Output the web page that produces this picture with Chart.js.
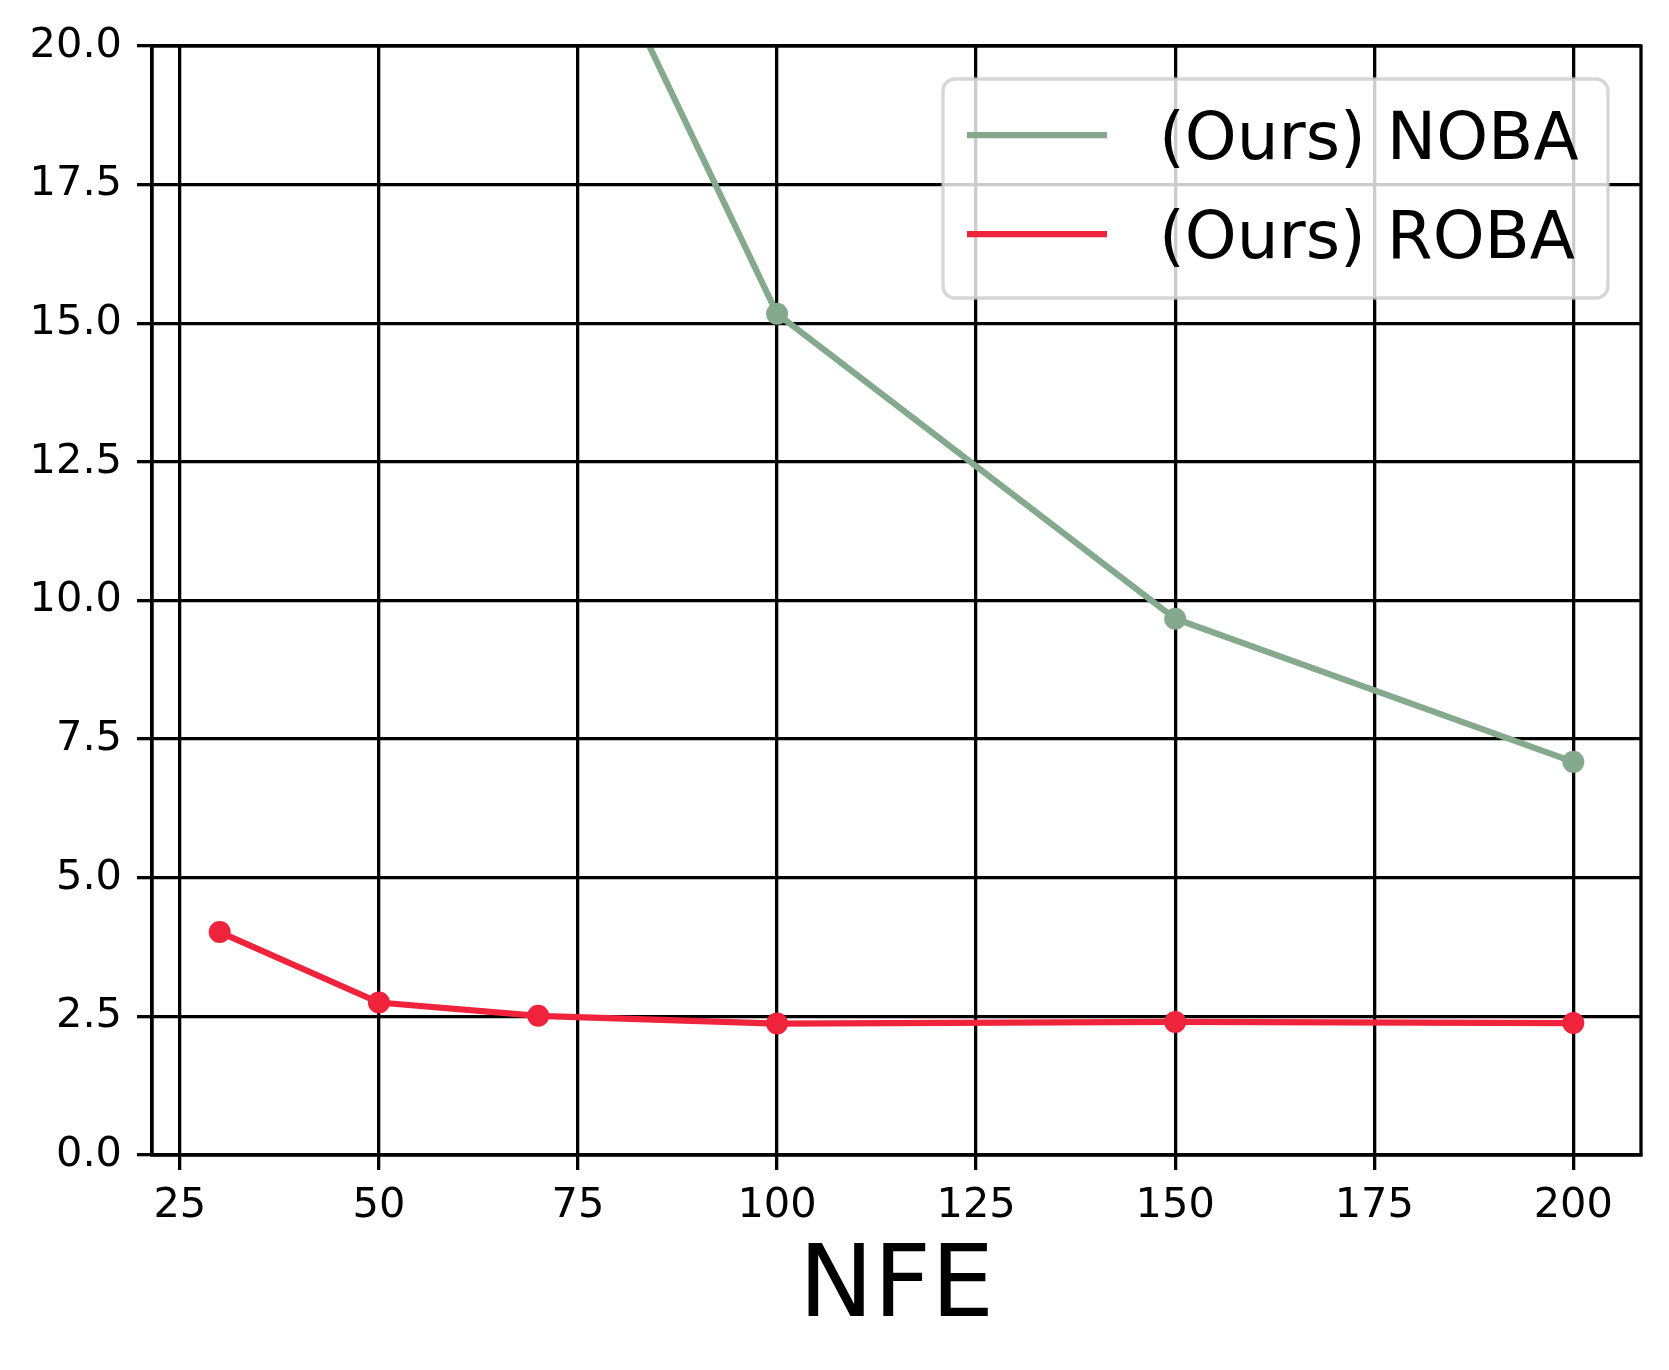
<!DOCTYPE html>
<html>
<head>
<meta charset="utf-8">
<script src="https://cdn.jsdelivr.net/npm/chart.js@4/dist/chart.umd.min.js"></script>
<style>
   html, body { margin: 0; padding: 0; background: #ffffff; }
   #wrap { width: 1669px; height: 1370px; }
</style>
</head>
<body>
<div id="wrap"><canvas id="chart" width="1669" height="1370"></canvas></div>
<script>
/* global Chart */

// values
const nfe = [30, 50, 70, 100, 150, 200];
const nobaValues = [null, null, 24.2, 15.17, 9.67, 7.09];
const robaValues = [4.02, 2.75, 2.51, 2.37, 2.40, 2.38];
const seriesLabels = ["(Ours) NOBA", "(Ours) ROBA"];
const xTicks = [25, 50, 75, 100, 125, 150, 175, 200];
const yTicks = [0, 2.5, 5, 7.5, 10, 12.5, 15, 17.5, 20];
const xTitle = "NFE";

const GREEN = "#84a98c";
const RED = "#ef233c";
const FONT = "'DejaVu Sans', sans-serif";

function toPoints(values) {
   return nfe.map((x, i) => ({ x: x, y: values[i] }));
}

// axes frame (right/top spines) drawn over the lines, then the legend box
const framePlugin = {
   id: "frame",
   afterDatasetsDraw(chart) {
      const { ctx, chartArea } = chart;
      ctx.save();
      ctx.strokeStyle = "#000000";
      ctx.lineWidth = 3.3;
      ctx.strokeRect(chartArea.left, chartArea.top,
         chartArea.right - chartArea.left, chartArea.bottom - chartArea.top);
      ctx.restore();
   },
   afterDraw(chart) {
      const ctx = chart.ctx;
      const box = { x: 943, y: 79, w: 665, h: 219, r: 12 };
      ctx.save();
      ctx.beginPath();
      ctx.roundRect(box.x, box.y, box.w, box.h, box.r);
      ctx.fillStyle = "rgba(255,255,255,0.8)";
      ctx.fill();
      ctx.strokeStyle = "rgba(204,204,204,0.8)";
      ctx.lineWidth = 3.3;
      ctx.stroke();

      ctx.font = "66px " + FONT;
      ctx.textBaseline = "alphabetic";
      ctx.textAlign = "left";
      chart.data.datasets.forEach((ds, i) => {
         const cy = 135 + i * 99;
         ctx.strokeStyle = ds.borderColor;
         ctx.lineWidth = 6.25;
         ctx.beginPath();
         ctx.moveTo(967, cy);
         ctx.lineTo(1107, cy);
         ctx.stroke();
         ctx.fillStyle = "#000000";
         ctx.fillText(ds.label, 1159, cy + 24);
      });
      ctx.restore();
   },
};

const ctx = document.getElementById("chart").getContext("2d");

new Chart(ctx, {
   type: "line",
   data: {
      datasets: [
         {
            label: seriesLabels[0],
            data: toPoints(nobaValues),
            borderColor: GREEN,
            backgroundColor: GREEN,
         },
         {
            label: seriesLabels[1],
            data: toPoints(robaValues),
            borderColor: RED,
            backgroundColor: RED,
         },
      ],
   },
   options: {
      responsive: false,
      animation: false,
      spanGaps: false,
      layout: { padding: { top: 46, right: 28, left: 0, bottom: 0 } },
      elements: {
         line: { borderWidth: 6.25, tension: 0 },
         point: { radius: 11, borderWidth: 0, hoverRadius: 11 },
      },
      plugins: {
         legend: { display: false },
         tooltip: { enabled: false },
      },
      scales: {
         x: {
            type: "linear",
            min: 21.5,
            max: 208.5,
            afterBuildTicks: (axis) => {
               axis.ticks = xTicks.map((v) => ({ value: v }));
            },
            afterFit: (axis) => {
               axis.height = 1370 - 1155;
            },
            ticks: {
               color: "#000000",
               font: { family: FONT, size: 41.5 },
               padding: 11,
               maxRotation: 0,
               autoSkip: false,
               callback: (v) => String(v),
            },
            grid: {
               color: "#000000",
               lineWidth: 3.3,
               tickLength: 15,
               tickColor: "#000000",
            },
            border: { color: "#000000", width: 3.3 },
            title: {
               display: true,
               text: xTitle,
               color: "#000000",
               font: { family: FONT, size: 100 },
               padding: { top: 0, bottom: 20 },
            },
         },
         y: {
            type: "linear",
            min: 0,
            max: 20,
            afterBuildTicks: (axis) => {
               axis.ticks = yTicks.map((v) => ({ value: v }));
            },
            afterFit: (axis) => {
               axis.width = 152;
            },
            ticks: {
               color: "#000000",
               font: { family: FONT, size: 41.5 },
               padding: 15,
               callback: (v) => Number(v).toFixed(1),
            },
            grid: {
               color: "#000000",
               lineWidth: 3.3,
               tickLength: 15,
               tickColor: "#000000",
            },
            border: { color: "#000000", width: 3.3 },
         },
      },
   },
   plugins: [framePlugin],
});
</script>
</body>
</html>
